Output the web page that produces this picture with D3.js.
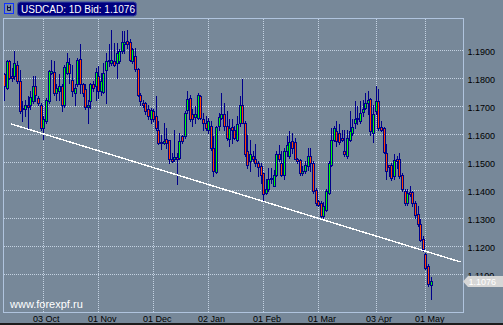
<!DOCTYPE html>
<html>
<head>
<meta charset="utf-8">
<script src="https://cdn.jsdelivr.net/npm/d3@7"></script>
<style>
  body { margin: 0; background: #778899; }
  svg { display: block; font-family: "Liberation Sans", Arial, sans-serif; }
</style>
</head>
<body>
<div id="chart"></div>
<script>
// Daily candles USDCAD, bid prices (index 0 = first bar on the left)
var opens = [
  1.1813, 1.1765, 1.1860, 1.1807, 1.1807, 1.1848, 1.1789, 1.1688, 1.1690, 1.1702,
  1.1705, 1.1717, 1.1771, 1.1727, 1.1705, 1.1622, 1.1646, 1.1717, 1.1819, 1.1821,
  1.1745, 1.1753, 1.1771, 1.1702, 1.1819, 1.1851, 1.1792, 1.1747, 1.1777, 1.1869,
  1.1777, 1.1759, 1.1697, 1.1717, 1.1777, 1.1771, 1.1807, 1.1753, 1.1749, 1.1830,
  1.1860, 1.1854, 1.1860, 1.1854, 1.1860, 1.1896, 1.1920, 1.1932, 1.1928, 1.1860,
  1.1880, 1.1833, 1.1741, 1.1711, 1.1711, 1.1688, 1.1654, 1.1682, 1.1666, 1.1616,
  1.1569, 1.1569, 1.1583, 1.1578, 1.1511, 1.1511, 1.1517, 1.1515, 1.1592, 1.1592,
  1.1685, 1.1729, 1.1670, 1.1661, 1.1658, 1.1735, 1.1652, 1.1640, 1.1616, 1.1628,
  1.1551, 1.1464, 1.1628, 1.1658, 1.1670, 1.1628, 1.1583, 1.1626, 1.1616, 1.1580,
  1.1638, 1.1702, 1.1640, 1.1539, 1.1503, 1.1523, 1.1509, 1.1497, 1.1485, 1.1459,
  1.1390, 1.1402, 1.1438, 1.1416, 1.1455, 1.1530, 1.1495, 1.1455, 1.1539, 1.1521,
  1.1574, 1.1572, 1.1509, 1.1507, 1.1461, 1.1467, 1.1485, 1.1521, 1.1497, 1.1399,
  1.1360, 1.1354, 1.1307, 1.1330, 1.1390, 1.1491, 1.1580, 1.1610, 1.1604, 1.1586,
  1.1541, 1.1521, 1.1580, 1.1604, 1.1640, 1.1652, 1.1646, 1.1678, 1.1694, 1.1711,
  1.1726, 1.1604, 1.1682, 1.1717, 1.1626, 1.1622, 1.1533, 1.1488, 1.1488, 1.1449,
  1.1509, 1.1509, 1.1452, 1.1396, 1.1354, 1.1392, 1.1392, 1.1354, 1.1313, 1.1280,
  1.1226, 1.1170, 1.1128, 1.1062
];
var highs = [
  1.1819, 1.1866, 1.1866, 1.1836, 1.1896, 1.1860, 1.1830, 1.1717, 1.1723, 1.1735,
  1.1753, 1.1807, 1.1807, 1.1735, 1.1711, 1.1664, 1.1729, 1.1830, 1.1864, 1.1860,
  1.1777, 1.1813, 1.1777, 1.1848, 1.1890, 1.1872, 1.1848, 1.1777, 1.1872, 1.1923,
  1.1783, 1.1777, 1.1723, 1.1783, 1.1789, 1.1836, 1.1842, 1.1819, 1.1854, 1.1890,
  1.1920, 1.1973, 1.1926, 1.1926, 1.1902, 1.1967, 1.1967, 1.1973, 1.1938, 1.1908,
  1.1908, 1.1836, 1.1747, 1.1723, 1.1714, 1.1705, 1.1694, 1.1688, 1.1735, 1.1646,
  1.1598, 1.1640, 1.1622, 1.1580, 1.1533, 1.1616, 1.1533, 1.1604, 1.1598, 1.1682,
  1.1753, 1.1741, 1.1688, 1.1699, 1.1745, 1.1741, 1.1676, 1.1664, 1.1658, 1.1646,
  1.1592, 1.1628, 1.1676, 1.1745, 1.1711, 1.1682, 1.1652, 1.1652, 1.1628, 1.1664,
  1.1735, 1.1795, 1.1646, 1.1598, 1.1580, 1.1539, 1.1563, 1.1503, 1.1495, 1.1461,
  1.1438, 1.1479, 1.1479, 1.1473, 1.1539, 1.1559, 1.1539, 1.1551, 1.1592, 1.1610,
  1.1604, 1.1586, 1.1515, 1.1509, 1.1485, 1.1503, 1.1551, 1.1551, 1.1503, 1.1408,
  1.1366, 1.1360, 1.1357, 1.1402, 1.1503, 1.1622, 1.1628, 1.1646, 1.1634, 1.1616,
  1.1616, 1.1616, 1.1682, 1.1652, 1.1717, 1.1699, 1.1717, 1.1723, 1.1745, 1.1753,
  1.1729, 1.1705, 1.1771, 1.1759, 1.1646, 1.1626, 1.1563, 1.1491, 1.1497, 1.1527,
  1.1521, 1.1533, 1.1459, 1.1404, 1.1402, 1.1414, 1.1396, 1.1360, 1.1342, 1.1295,
  1.1235, 1.1176, 1.1134, 1.1090
];
var lows = [
  1.1723, 1.1759, 1.1795, 1.1789, 1.1795, 1.1783, 1.1676, 1.1646, 1.1664, 1.1622,
  1.1688, 1.1711, 1.1717, 1.1705, 1.1616, 1.1583, 1.1640, 1.1711, 1.1813, 1.1741,
  1.1723, 1.1723, 1.1682, 1.1697, 1.1813, 1.1783, 1.1735, 1.1705, 1.1771, 1.1747,
  1.1735, 1.1688, 1.1640, 1.1694, 1.1753, 1.1723, 1.1729, 1.1741, 1.1747, 1.1711,
  1.1842, 1.1848, 1.1842, 1.1801, 1.1854, 1.1890, 1.1890, 1.1908, 1.1860, 1.1854,
  1.1824, 1.1735, 1.1705, 1.1697, 1.1670, 1.1652, 1.1640, 1.1646, 1.1616, 1.1563,
  1.1545, 1.1563, 1.1551, 1.1497, 1.1499, 1.1503, 1.1420, 1.1509, 1.1569, 1.1586,
  1.1676, 1.1646, 1.1628, 1.1640, 1.1652, 1.1652, 1.1616, 1.1616, 1.1604, 1.1542,
  1.1449, 1.1461, 1.1616, 1.1652, 1.1616, 1.1580, 1.1557, 1.1569, 1.1583, 1.1574,
  1.1630, 1.1638, 1.1521, 1.1479, 1.1467, 1.1503, 1.1485, 1.1449, 1.1426, 1.1366,
  1.1384, 1.1396, 1.1426, 1.1414, 1.1449, 1.1503, 1.1449, 1.1438, 1.1521, 1.1515,
  1.1533, 1.1509, 1.1497, 1.1455, 1.1455, 1.1461, 1.1473, 1.1467, 1.1390, 1.1348,
  1.1342, 1.1304, 1.1301, 1.1324, 1.1384, 1.1485, 1.1574, 1.1557, 1.1566, 1.1574,
  1.1521, 1.1515, 1.1574, 1.1598, 1.1622, 1.1634, 1.1640, 1.1664, 1.1688, 1.1670,
  1.1598, 1.1571, 1.1670, 1.1616, 1.1610, 1.1533, 1.1438, 1.1449, 1.1435, 1.1438,
  1.1479, 1.1443, 1.1396, 1.1348, 1.1345, 1.1378, 1.1342, 1.1301, 1.1271, 1.1217,
  1.1182, 1.1119, 1.1057, 1.1011
];
var closes = [
  1.1771, 1.1860, 1.1801, 1.1801, 1.1854, 1.1789, 1.1682, 1.1694, 1.1702, 1.1697,
  1.1733, 1.1771, 1.1738, 1.1711, 1.1622, 1.1652, 1.1721, 1.1824, 1.1824, 1.1747,
  1.1765, 1.1773, 1.1702, 1.1840, 1.1857, 1.1819, 1.1753, 1.1765, 1.1866, 1.1777,
  1.1747, 1.1697, 1.1705, 1.1777, 1.1765, 1.1821, 1.1753, 1.1789, 1.1819, 1.1860,
  1.1864, 1.1866, 1.1845, 1.1890, 1.1896, 1.1928, 1.1928, 1.1923, 1.1866, 1.1904,
  1.1833, 1.1741, 1.1717, 1.1702, 1.1682, 1.1664, 1.1685, 1.1652, 1.1622, 1.1569,
  1.1571, 1.1574, 1.1569, 1.1511, 1.1503, 1.1517, 1.1511, 1.1574, 1.1574, 1.1676,
  1.1726, 1.1652, 1.1652, 1.1670, 1.1741, 1.1658, 1.1640, 1.1622, 1.1646, 1.1551,
  1.1467, 1.1626, 1.1660, 1.1670, 1.1628, 1.1586, 1.1622, 1.1616, 1.1586, 1.1634,
  1.1702, 1.1640, 1.1527, 1.1491, 1.1527, 1.1509, 1.1497, 1.1483, 1.1455, 1.1384,
  1.1402, 1.1438, 1.1444, 1.1455, 1.1527, 1.1509, 1.1455, 1.1539, 1.1559, 1.1571,
  1.1551, 1.1511, 1.1503, 1.1459, 1.1467, 1.1489, 1.1523, 1.1497, 1.1396, 1.1354,
  1.1348, 1.1307, 1.1342, 1.1396, 1.1497, 1.1580, 1.1622, 1.1574, 1.1571, 1.1580,
  1.1527, 1.1586, 1.1610, 1.1626, 1.1654, 1.1658, 1.1676, 1.1690, 1.1709, 1.1723,
  1.1610, 1.1670, 1.1717, 1.1622, 1.1616, 1.1535, 1.1467, 1.1483, 1.1443, 1.1507,
  1.1503, 1.1449, 1.1402, 1.1352, 1.1390, 1.1384, 1.1354, 1.1309, 1.1277, 1.1221,
  1.1188, 1.1122, 1.1063, 1.1076
];

// Axis labels
var tickLabels = ["03 Oct", "01 Nov", "01 Dec", "02 Jan", "01 Feb", "01 Mar", "03 Apr", "01 May"];
var tickDays = [15, 36, 57, 78, 99, 120, 142, 161];
var priceTicks = [1.11, 1.12, 1.13, 1.14, 1.15, 1.16, 1.17, 1.18, 1.19];

// Support trend line (bar index, price)
var trendDays = [2.7, 174.4];
var trendPrices = [1.1636, 1.1143];

var title = "USDCAD: 1D Bid: ";
var site = "www.forexpf.ru";

var width = 503,
    height = 325;
var plot = {left: 3, top: 18, right: 463, bottom: 312};

var svg = d3.select("#chart")
            .append("svg")
              .attr("width", width)
              .attr("height", height);

svg.append("rect")
    .attr("width", width)
    .attr("height", height)
    .attr("fill", "#778899");

// Scales
var x = d3.scaleLinear()
          .domain([0, opens.length - 1])
          .range([4, 430.7]);
var xr = x.copy().interpolate(d3.interpolateRound);

var y = d3.scaleLinear()
          .domain([1.11, 1.19])
          .range([274, 50]);

// Vertical grid + date labels
var xAxis = svg.append("g")
    .attr("transform", "translate(0," + plot.bottom + ")")
    .call(d3.axisBottom(xr)
            .tickValues(tickDays)
            .tickSize(-(plot.bottom - plot.top))
            .tickPadding(3.5)
            .tickFormat(function(d, i) { return tickLabels[i]; }));
xAxis.select(".domain").remove();
xAxis.selectAll("line")
    .attr("stroke", "#c4d2e2")
    .attr("stroke-dasharray", "1,1");
xAxis.selectAll("text")
    .attr("fill", "#000")
    .attr("font-size", "9px")
    .attr("font-family", "'Liberation Sans', Arial, sans-serif")
    .attr("text-anchor", "start")
    .attr("x", -10.5);

// Horizontal grid + price labels
var yAxis = svg.append("g")
    .attr("transform", "translate(" + plot.right + ",0)")
    .call(d3.axisRight(y)
            .tickValues(priceTicks)
            .tickSize(-(plot.right - plot.left))
            .tickPadding(4.5)
            .tickFormat(d3.format(".4f")));
yAxis.select(".domain").remove();
yAxis.selectAll("line")
    .attr("stroke", "#c4d2e2")
    .attr("stroke-dasharray", "1,1");
yAxis.selectAll("text")
    .attr("fill", "#000")
    .attr("font-size", "9px")
    .attr("font-family", "'Liberation Sans', Arial, sans-serif")
    .attr("dy", "0.5em");

// Candles
var candles = opens.map(function(o, i) {
  return {i: i, o: o, h: highs[i], l: lows[i], c: closes[i]};
});

var g = svg.append("g").attr("shape-rendering", "crispEdges");

g.selectAll(".wick")
  .data(candles)
  .enter()
  .append("line")
    .attr("class", "wick")
    .attr("x1", function(d) { return xr(d.i) + 0.5; })
    .attr("x2", function(d) { return xr(d.i) + 0.5; })
    .attr("y1", function(d) { return Math.round(y(d.h)); })
    .attr("y2", function(d) { return Math.round(y(d.l)) + 1; })
    .attr("stroke", "#00008b")
    .attr("stroke-width", 1);

g.selectAll(".body")
  .data(candles)
  .enter()
  .append("rect")
    .attr("class", "body")
    .attr("x", function(d) { return xr(d.i) - 0.5; })
    .attr("y", function(d) { return Math.round(y(Math.max(d.o, d.c))) + 0.5; })
    .attr("width", 2)
    .attr("height", function(d) {
      return Math.max(1, Math.round(y(Math.min(d.o, d.c))) - Math.round(y(Math.max(d.o, d.c))));
    })
    .attr("fill", function(d) { return d.c >= d.o ? "#00ff00" : "#ff4500"; })
    .attr("stroke", "#00008b")
    .attr("stroke-width", 1);

// Trend line
svg.append("line")
    .attr("x1", x(trendDays[0]))
    .attr("y1", y(trendPrices[0]))
    .attr("x2", x(trendDays[1]))
    .attr("y2", y(trendPrices[1]))
    .attr("stroke", "#ffffff")
    .attr("stroke-width", 1.4)
    .attr("shape-rendering", "crispEdges");

// Plot frame
svg.append("rect")
    .attr("x", plot.left + 0.5)
    .attr("y", plot.top + 0.5)
    .attr("width", plot.right - plot.left)
    .attr("height", plot.bottom - plot.top)
    .attr("fill", "none")
    .attr("stroke", "#b0c4de");

// Last price marker on the right axis
var last = closes[closes.length - 1];
var ly = Math.round(y(last)) + 0.5;
svg.append("path")
    .attr("d", "M" + plot.right + "," + ly +
               "L" + (plot.right + 5) + "," + (ly - 5.5) +
               "H" + width + "V" + (ly + 5.5) +
               "H" + (plot.right + 5) + "Z")
    .attr("fill", "#d6d6d6");
svg.append("text")
    .attr("x", plot.right + 5.5)
    .attr("y", ly + 3.5)
    .attr("fill", "#ffffff")
    .attr("font-size", "9px")
    .text(d3.format(".4f")(last));

// Title box
svg.append("rect")
    .attr("x", 4.5)
    .attr("y", 3.5)
    .attr("width", 9)
    .attr("height", 10)
    .attr("fill", "#7a8ca8")
    .attr("stroke", "#1030ff");
svg.append("path")
    .attr("d", "M7.5,5.5V10.5H10.5V5.5M7.5,7.5H10.5")
    .attr("fill", "none")
    .attr("stroke", "#101040");
svg.append("rect")
    .attr("x", 17.5)
    .attr("y", 2)
    .attr("width", 119)
    .attr("height", 14)
    .attr("rx", 3)
    .attr("fill", "#000080")
    .attr("stroke", "#3a4aa0");
svg.append("text")
    .attr("x", 21)
    .attr("y", 12.5)
    .attr("fill", "#ffffff")
    .attr("font-size", "10px")
    .text(title + d3.format(".4f")(last));

// Watermark
svg.append("text")
    .attr("x", 10)
    .attr("y", 307.5)
    .attr("fill", "#ffffff")
    .attr("font-size", "11px")
    .text(site);

// Dark window edge at the bottom
svg.append("rect")
    .attr("x", 0)
    .attr("y", height - 2)
    .attr("width", width)
    .attr("height", 2)
    .attr("fill", "#1c1c1c");
</script>
</body>
</html>
